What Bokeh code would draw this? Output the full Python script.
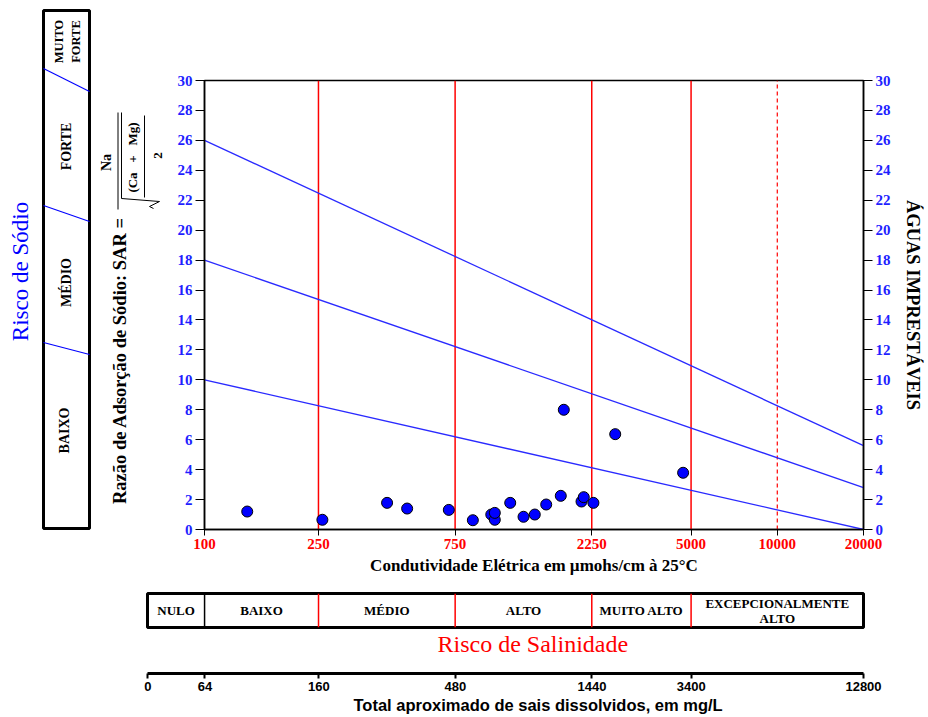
import math
from bokeh.plotting import figure
from bokeh.layouts import column, row
from bokeh.models import Range1d, FixedTicker, LinearAxis
from bokeh.core.properties import value
from bokeh.embed import file_html
from bokeh.resources import INLINE

# ---------------- data ----------------
EC = [141, 258, 434, 510, 713, 865, 1003, 1032, 1032, 1168, 1300, 1423, 1560, 1754, 1797, 2072, 2110, 2280, 2717, 4690]
SAR = [1.2, 0.65, 1.78, 1.40, 1.31, 0.62, 1.0, 0.65, 1.11, 1.78, 0.85, 1.0, 1.67, 2.25, 8.0, 1.87, 2.16, 1.78, 6.37, 3.79]

SODIUM_LINE_EC = [100, 20000]
SODIUM_LINE_SAR_START = [10, 18, 26]
SODIUM_LINE_SAR_END = [0, 2.8, 5.6]

SALINITY_LIMITS = [250, 750, 2250, 5000]
SALINITY_DASHED = [10000]
EC_TICKS = [100, 250, 750, 2250, 5000, 10000, 20000]
EC_TICK_LABELS = ["100", "250", "750", "2250", "5000", "10000", "20000"]
SAR_TICKS = [0, 2, 4, 6, 8, 10, 12, 14, 16, 18, 20, 22, 24, 26, 28, 30]

SALINITY_EDGES = [63.2, 100, 250, 750, 2250, 5000, 20000]
SALINITY_CLASSES = ["NULO", "BAIXO", "MÉDIO", "ALTO", "MUITO ALTO", "EXCEPCIONALMENTE\nALTO"]

TDS_TICK_EC = [63.2, 100, 250, 750, 2250, 5000, 20000]
TDS_LABELS = ["0", "64", "160", "480", "1440", "3400", "12800"]

SODIUM_CLASSES = ["BAIXO", "MÉDIO", "FORTE", "MUITO\nFORTE"]

SERIF = "Liberation Serif"
SANS = "Liberation Sans"
BLUE = "#1f1fff"
RED = "#ff0000"

PAGE_W = 928
H1 = 585          # height of the top row
LW = 165          # width of the left panel


def Y(py):
    return H1 - py


# ---------------- left panel (page-pixel coordinates) ----------------
left = figure(width=LW, height=H1, x_range=Range1d(0, LW), y_range=Range1d(0, H1),
              toolbar_location=None, output_backend="svg", min_border=0,
              x_axis_location=None, y_axis_location=None, outline_line_color=None)
left.grid.visible = False
left.frame_align = False

left.quad(left=[43], right=[89], top=[Y(10)], bottom=[Y(528)], fill_color=None,
          line_color="black", line_width=3)
left.segment(x0=[43, 43, 43], y0=[Y(68), Y(205), Y(342)], x1=[89, 89, 89],
             y1=[Y(91), Y(221), Y(354)], line_color="blue", line_width=1.2)
left.text(x=[64, 66, 66], y=[Y(430), Y(282), Y(146)], text=SODIUM_CLASSES[:3],
          angle=math.pi / 2, text_align="center", text_baseline="middle",
          text_font=value(SERIF), text_font_style="bold", text_font_size="14px",
          text_color="black")
left.text(x=[67], y=[Y(41)], text=SODIUM_CLASSES[3:],
          angle=math.pi / 2, text_align="center", text_baseline="middle",
          text_font=value(SERIF), text_font_style="bold", text_font_size="12.5px",
          text_line_height=1.15, text_color="black")
left.text(x=[20], y=[Y(271)], text=["Risco de Sódio"], angle=math.pi / 2,
          text_align="center", text_baseline="middle", text_font=value(SERIF),
          text_font_size="23px", text_color="blue")
left.text(x=[119], y=[Y(360)], text=["Razão de Adsorção de Sódio: SAR ="], angle=math.pi / 2,
          text_align="center", text_baseline="middle", text_font=value(SERIF),
          text_font_style="bold", text_font_size="18.5px", text_color="black")
# SAR formula
left.text(x=[106], y=[Y(162)], text=["Na"], angle=math.pi / 2, text_align="center",
          text_baseline="middle", text_font=value(SERIF), text_font_style="bold",
          text_font_size="14px", text_color="black")
left.text(x=[132, 157], y=[Y(157), Y(155)],
          text=["(Ca\u00a0\u00a0\u00a0+\u00a0\u00a0\u00a0Mg)", "2"],
          angle=math.pi / 2, text_align="center", text_baseline="middle",
          text_font=value(SERIF), text_font_style="bold", text_font_size="13px",
          text_color="black")
left.segment(x0=[117.5, 121, 144], y0=[Y(112), Y(112), Y(115)], x1=[117.5, 121, 144],
             y1=[Y(209), Y(198), Y(197)], line_color="black", line_width=1)
left.line(x=[121, 159, 149, 153], y=[Y(198), Y(201), Y(206), Y(208)], line_color="black",
          line_width=1)

# ---------------- main chart ----------------
MW = PAGE_W - LW
p = figure(width=MW, height=H1, x_axis_type="log", x_range=Range1d(100, 20000),
           y_range=Range1d(0, 30), min_border_left=204 - LW, min_border_right=PAGE_W - 863,
           min_border_top=80, min_border_bottom=H1 - 529, toolbar_location=None,
           output_backend="svg")
p.frame_align = False
p.grid.visible = False
p.outline_line_color = "black"
p.outline_line_width = 1.5

p.segment(x0=SALINITY_LIMITS, y0=[0] * len(SALINITY_LIMITS), x1=SALINITY_LIMITS,
          y1=[30] * len(SALINITY_LIMITS), line_color=RED, line_width=1.5)
p.segment(x0=SALINITY_DASHED, y0=[0] * len(SALINITY_DASHED), x1=SALINITY_DASHED,
          y1=[30] * len(SALINITY_DASHED), line_color=RED, line_width=1.2, line_dash="4 3")
p.segment(x0=[SODIUM_LINE_EC[0]] * 3, y0=SODIUM_LINE_SAR_START,
          x1=[SODIUM_LINE_EC[1]] * 3, y1=SODIUM_LINE_SAR_END, line_color="#2a2aff",
          line_width=1.3)
p.scatter(EC, SAR, size=11, fill_color="#0000ff", line_color="black", line_width=1)

xa = p.xaxis[0]
xa.ticker = FixedTicker(ticks=EC_TICKS)
xa.major_label_overrides = {t: l for t, l in zip(EC_TICKS, EC_TICK_LABELS)}
xa.minor_tick_line_color = None
xa.major_tick_out = 6
xa.major_tick_in = 0
xa.axis_line_width = 1.5
xa.major_label_standoff = 3
xa.major_label_text_color = RED
xa.major_label_text_font = SERIF
xa.major_label_text_font_style = "bold"
xa.major_label_text_font_size = "15px"
xa.axis_label = "Condutividade Elétrica em µmohs/cm à 25°C"
xa.axis_label_text_color = "black"
xa.axis_label_text_font = SERIF
xa.axis_label_text_font_style = "bold"
xa.axis_label_text_font_size = "17px"
xa.axis_label_standoff = 4

ya = p.yaxis[0]
ya.ticker = FixedTicker(ticks=SAR_TICKS)
ra = LinearAxis(ticker=FixedTicker(ticks=SAR_TICKS), axis_label="ÁGUAS IMPRESTÁVEIS")
p.add_layout(ra, "right")
for ax in (ya, ra):
    ax.minor_tick_line_color = None
    ax.major_tick_out = 9
    ax.major_tick_in = 0
    ax.axis_line_width = 1.5
    ax.major_label_standoff = 3
    ax.major_label_text_color = BLUE
    ax.major_label_text_font = SERIF
    ax.major_label_text_font_style = "bold"
    ax.major_label_text_font_size = "15px"
ra.axis_label_text_color = "black"
ra.axis_label_text_font = SERIF
ra.axis_label_text_font_style = "bold"
ra.axis_label_text_font_size = "18.5px"
ra.axis_label_standoff = 9

# ---------------- salinity class table ----------------
sal = figure(width=PAGE_W, height=80, x_axis_type="log",
             x_range=Range1d(SALINITY_EDGES[0], SALINITY_EDGES[-1]),
             y_range=Range1d(0, 1), min_border_left=147, min_border_right=PAGE_W - 863,
             min_border_top=8, min_border_bottom=38, toolbar_location=None, output_backend="svg",
             x_axis_location=None, y_axis_location=None, title="Risco de Salinidade",
             title_location="below")
sal.frame_align = False
sal.grid.visible = False
sal.outline_line_color = "black"
sal.outline_line_width = 3
sal.title.align = "left"
sal.title.offset = 437 - 147
sal.title.text_color = RED
sal.title.text_font = SERIF
sal.title.text_font_style = "normal"
sal.title.text_font_size = "24px"
sal.title.standoff = 2

inner = SALINITY_EDGES[1:-1]
sal.segment(x0=inner, y0=[0] * len(inner), x1=inner, y1=[1] * len(inner),
            line_color=["black"] + [RED] * (len(inner) - 1), line_width=1.5)
centers = [math.sqrt(a * b) for a, b in zip(SALINITY_EDGES[:-1], SALINITY_EDGES[1:])]
sal.text(x=centers, y=[0.5] * len(centers), text=SALINITY_CLASSES, text_align="center",
         text_baseline="middle", text_font=value(SERIF), text_font_style="bold",
         text_font_size="13px", text_line_height=1.0, text_color="black")

# ---------------- TDS axis ----------------
tds = figure(width=PAGE_W, height=52, x_axis_type="log", x_range=Range1d(63.0, 20000),
             y_range=Range1d(0, 1), min_border_left=147, min_border_right=PAGE_W - 863,
             min_border_top=7, min_border_bottom=44, toolbar_location=None, output_backend="svg",
             y_axis_location=None, outline_line_color=None,
             title="Total aproximado de sais dissolvidos, em mg/L", title_location="below")
tds.frame_align = False
tds.grid.visible = False
tds.title.align = "left"
tds.title.offset = 353 - 147
tds.title.text_color = "black"
tds.title.text_font = SANS
tds.title.text_font_style = "bold"
tds.title.text_font_size = "16.5px"
tds.title.standoff = 0
ta = tds.xaxis[0]
ta.ticker = FixedTicker(ticks=TDS_TICK_EC)
ta.major_label_overrides = {t: l for t, l in zip(TDS_TICK_EC, TDS_LABELS)}
ta.minor_tick_line_color = None
ta.axis_line_width = 3
ta.major_tick_line_width = 2
ta.major_tick_out = 5
ta.major_tick_in = 0
ta.major_label_standoff = 3
ta.major_label_text_color = "black"
ta.major_label_text_font = SANS
ta.major_label_text_font_style = "bold"
ta.major_label_text_font_size = "13px"

layout = column(row(left, p), sal, tds)
open("out.html", "w").write(file_html(layout, INLINE))
